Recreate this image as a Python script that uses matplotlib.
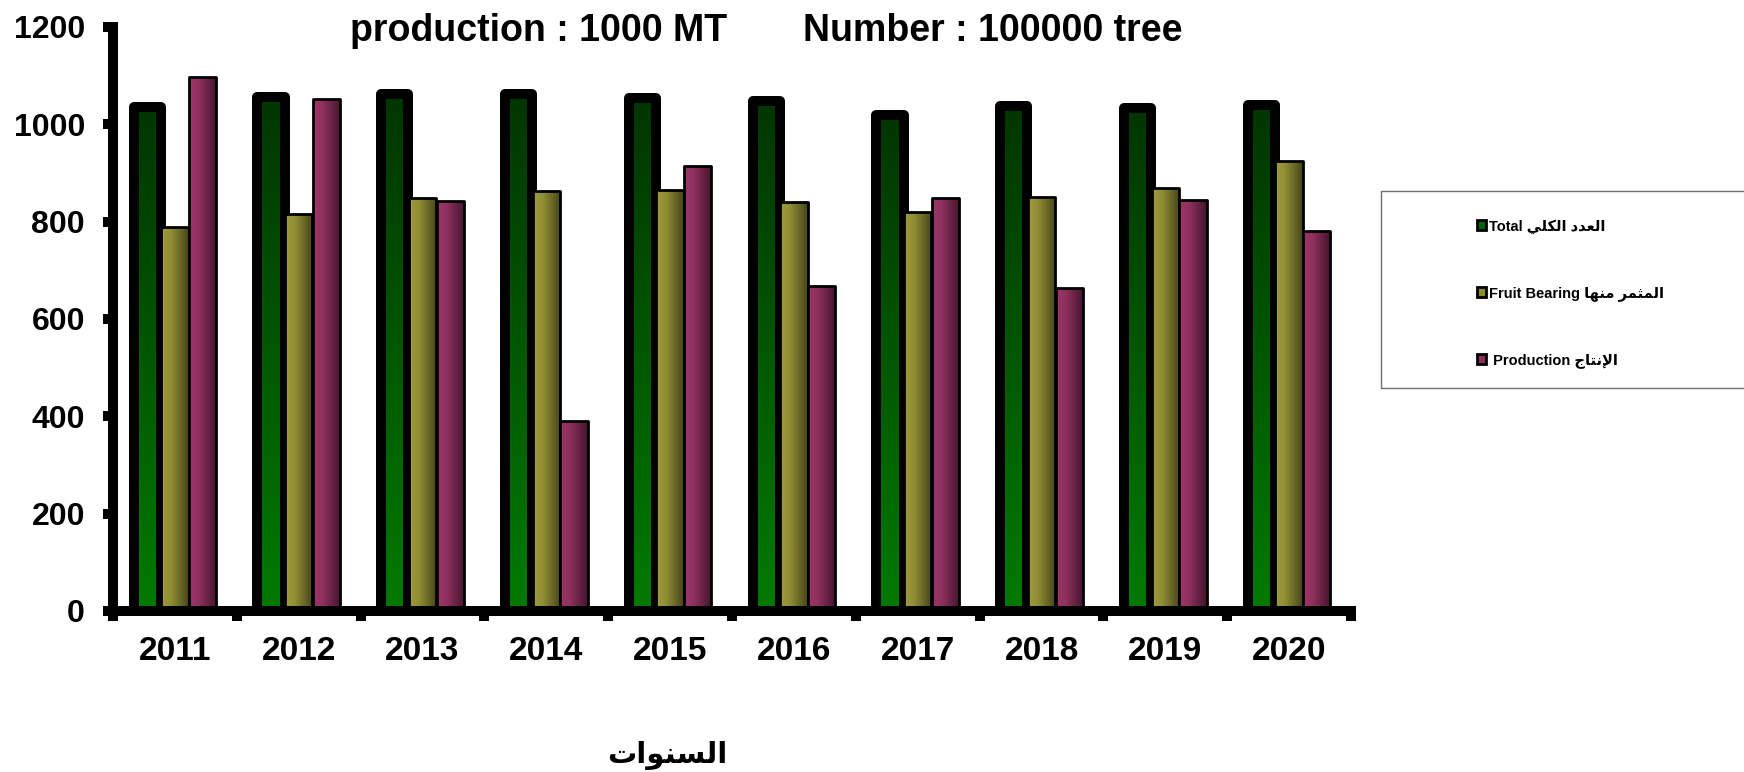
import numpy as np
import matplotlib
matplotlib.use("Agg")
import matplotlib.pyplot as plt
from matplotlib.patches import Patch, Rectangle
from matplotlib.colors import LinearSegmentedColormap
from matplotlib.font_manager import FontProperties

# data
years = ['2011', '2012', '2013', '2014', '2015', '2016', '2017', '2018', '2019', '2020']
total = [1036, 1057, 1063, 1062, 1055, 1047, 1020, 1037, 1034, 1039]
fruit_bearing = [790, 816, 848, 862, 866, 841, 819, 850, 870, 925]
production = [1097, 1052, 843, 390, 914, 668, 849, 664, 845, 781]
y_ticks = [0, 200, 400, 600, 800, 1000, 1200]

# Arabic written in presentation forms, visual order (matplotlib does no shaping)
AR_TOTAL = "\uFEF2\uFEE0\uFEDC\uFEDF\uFE8D \uFEA9\uFEAA\uFECC\uFEDF\uFE8D"       # العدد الكلي
AR_FRUIT = "\uFE8E\uFEEC\uFEE8\uFEE3 \uFEAE\uFEE4\uFE9C\uFEE4\uFEDF\uFE8D"        # المثمر منها
AR_PROD = "\uFE9D\uFE8E\uFE98\uFEE7\uFEF9\uFE8D"                                 # الإنتاج
AR_YEARS = "\uFE95\uFE8D\uFEEE\uFEE8\uFEB4\uFEDF\uFE8D"                          # السنوات

labels = ["Total " + AR_TOTAL, "Fruit Bearing " + AR_FRUIT, " Production " + AR_PROD]

FAM = ['Liberation Sans', 'DejaVu Sans']
W, H = 1744, 772
BAR_W = 0.22
OFF = 0.224

green_cmap = LinearSegmentedColormap.from_list('g', [(0.0, 0.48, 0.0), (0.0, 0.21, 0.0)])
olive_cmap = LinearSegmentedColormap.from_list(
    'o', [(0.0, (0.62, 0.61, 0.23)), (0.35, (0.57, 0.56, 0.21)), (1.0, (0.27, 0.27, 0.10))])
plum_cmap = LinearSegmentedColormap.from_list(
    'p', [(0.0, (0.62, 0.21, 0.40)), (0.35, (0.56, 0.19, 0.37)), (1.0, (0.26, 0.08, 0.17))])


def gradient_bars(ax, x, heights, cmap, vertical, lw, z):
    bars = ax.bar(x, heights, width=BAR_W, facecolor='none', edgecolor='black',
                  linewidth=lw, zorder=z + 0.5)
    grad = np.linspace(0, 1, 256)
    img = grad.reshape(-1, 1) if vertical else grad.reshape(1, -1)
    for b in bars:
        b.set_joinstyle('round')
        x0, y0 = b.get_x(), b.get_y()
        im = ax.imshow(img, cmap=cmap, origin='lower', aspect='auto', zorder=z,
                       extent=[x0, x0 + b.get_width(), y0, y0 + b.get_height()],
                       interpolation='bilinear')
        im.set_clip_path(b)
    return bars


fig = plt.figure(figsize=(W / 100, H / 100), dpi=100)
ax = fig.add_axes([113 / W, 1 - 611 / H, (1351 - 113) / W, (611 - 27) / H])

x = np.arange(len(years))
gradient_bars(ax, x - OFF, total, green_cmap, True, 7.2, 2)
gradient_bars(ax, x, fruit_bearing, olive_cmap, False, 2.0, 3)
gradient_bars(ax, x + OFF, production, plum_cmap, False, 2.0, 4)

ax.set_xlim(-0.5, len(years) - 0.5)
ax.set_ylim(0, 1200)

for side in ['top', 'right']:
    ax.spines[side].set_visible(False)
for side in ['left', 'bottom']:
    ax.spines[side].set_linewidth(7.2)
    ax.spines[side].set_zorder(6)

ax.set_yticks(y_ticks)
ax.set_yticklabels([str(v) for v in y_ticks])
ax.tick_params(axis='y', direction='out', length=7.2, width=7.2, pad=13)
ax.set_xticks(x)
ax.set_xticklabels(years)
ax.set_xticks(np.arange(-0.5, len(years)), minor=True)
ax.tick_params(axis='x', which='major', length=0, pad=18)
ax.tick_params(axis='x', which='minor', direction='out', length=7.2, width=7.2)
for t in ax.get_yticklabels():
    t.set_fontproperties(FontProperties(family=FAM, weight='bold', size=23))
for t in ax.get_xticklabels():
    t.set_fontproperties(FontProperties(family=FAM, weight='bold', size=24))

# title line
fig.text(350 / W, 1 - 41 / H, "production : 1000 MT", ha='left', va='baseline',
         fontsize=27, fontweight='bold', family=FAM)
fig.text(803 / W, 1 - 41 / H, "Number : 100000 tree", ha='left', va='baseline',
         fontsize=27, fontweight='bold', family=FAM)

# x axis caption
fig.text(667 / W, 1 - 756 / H, AR_YEARS, ha='center', va='center',
         fontsize=21, fontweight='bold', family=['DejaVu Sans'])

# legend
fig.patches.append(Rectangle((1381 / W, 1 - 388 / H), 0.25, 197 / H, transform=fig.transFigure,
                             facecolor='none', edgecolor='#6e6e6e', linewidth=1.0))
handles = [Patch(facecolor=(0.0, 0.4, 0.0), edgecolor='black', linewidth=2),
           Patch(facecolor=(0.55, 0.55, 0.2), edgecolor='black', linewidth=2),
           Patch(facecolor=(0.55, 0.18, 0.35), edgecolor='black', linewidth=2)]
fig.legend(handles, labels, loc='upper left', bbox_to_anchor=(1477 / W, 1 - 219 / H),
           bbox_transform=fig.transFigure, frameon=False, borderpad=0, borderaxespad=0,
           handlelength=0.65, handleheight=0.65, handletextpad=0.15, labelspacing=3.6,
           prop=FontProperties(family=FAM, weight='bold', size=10.5))

fig.savefig('out.png', dpi=100)
